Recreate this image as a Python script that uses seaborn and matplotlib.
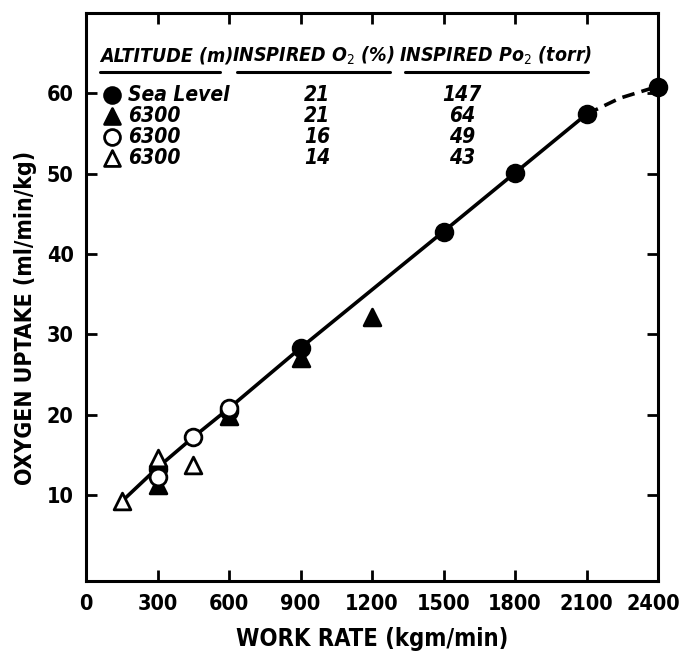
import pandas as pd
import matplotlib.pyplot as plt
import matplotlib.transforms as mtransforms
import seaborn as sns

# data
sea_x = [300, 600, 900, 1500, 1800, 2100, 2400]
sea_y = [13.3, 20.4, 28.3, 42.8, 50.1, 57.4, 60.8]
alt21_x = [300, 600, 900, 1200]
alt21_y = [11.3, 19.8, 27.0, 32.1]
alt16_x = [300, 450, 600]
alt16_y = [12.3, 17.2, 20.8]
alt14_x = [150, 300, 450]
alt14_y = [9.2, 14.6, 13.8]

fit_x = [150, 300, 450, 600, 900, 1500, 1800, 2100]
fit_y = [9.2, 13.4, 17.2, 20.8, 28.3, 42.8, 50.1, 57.4]
ext_x = [2100, 2240, 2370, 2400]
ext_y = [57.4, 59.4, 60.6, 60.8]

x_ticks = [0, 300, 600, 900, 1200, 1500, 1800, 2100, 2400]
y_ticks = [10, 20, 30, 40, 50, 60]

table_alt = ['Sea Level', '6300', '6300', '6300']
table_o2 = ['21', '21', '16', '14']
table_po2 = ['147', '64', '49', '43']

sns.set_style('ticks')
plt.rcParams['font.family'] = ['DejaVu Sans']
plt.rcParams['font.stretch'] = 'condensed'
plt.rcParams['text.color'] = 'black'
plt.rcParams['axes.labelcolor'] = 'black'
plt.rcParams['axes.edgecolor'] = 'black'
plt.rcParams['xtick.color'] = 'black'
plt.rcParams['ytick.color'] = 'black'

fig = plt.figure(figsize=(6.79, 6.59), dpi=100)
ax = fig.add_axes([86/679, 1 - 581/659, 572/679, 568/659])

# fitted line (solid) and extrapolation (dashed)
sns.lineplot(x=fit_x, y=fit_y, ax=ax, color='black', lw=2.6, zorder=2, sort=False)
sns.lineplot(x=ext_x, y=ext_y, ax=ax, color='black', lw=2.6, ls=(0, (3.5, 2)), zorder=2, sort=False)

ms = 145
groups = [
    (sea_x, sea_y, 'o', 'black'),
    (alt21_x, alt21_y, '^', 'black'),
    (alt16_x, alt16_y, 'o', 'white'),
    (alt14_x, alt14_y, '^', 'white'),
]
for i, (gx, gy, mk, fc) in enumerate(groups):
    sns.scatterplot(x=gx, y=gy, ax=ax, marker=mk, s=ms, color=fc,
                    edgecolor='black', linewidth=2, zorder=3 + i, clip_on=False)

ax.set_xlim(0, 2400)
ax.set_ylim(-0.7, 70)
ax.set_xticks(x_ticks)
ax.set_yticks(y_ticks)
ax.tick_params(direction='in', length=8, width=2, top=True, right=True,
               labelsize=15.5, pad=9)
for lbl in ax.get_xticklabels() + ax.get_yticklabels():
    lbl.set_fontweight('bold')
    lbl.set_fontstretch('condensed')
# nudge the last x label so it stays inside the figure
last = ax.get_xticklabels()[-1]
last.set_transform(last.get_transform() + mtransforms.ScaledTranslation(-5/100, 0, fig.dpi_scale_trans))
for sp in ax.spines.values():
    sp.set_linewidth(2.2)
    sp.set_color('black')
    sp.set_visible(True)

ax.set_xlabel('WORK RATE (kgm/min)', fontsize=17, fontweight='bold', labelpad=10)
ax.set_ylabel('OXYGEN UPTAKE (ml/min/kg)', fontsize=16.5, fontweight='bold')
ax.yaxis.set_label_coords(-0.086, 0.463)

# legend table drawn as text
def fx(px):
    return (px - 86) / 572

def fy(py):
    return (581 - py) / 568

hdr = dict(fontsize=14, fontweight='bold', style='italic', fontstretch='condensed',
           transform=ax.transAxes, va='center')
ax.text(fx(100), fy(56), 'ALTITUDE (m)', ha='left', **hdr)
ax.text(fx(313), fy(56), 'INSPIRED O$_2$ (%)', ha='center', **hdr)
ax.text(fx(496), fy(56), 'INSPIRED Po$_2$ (torr)', ha='center', **hdr)
for x0, x1 in [(100, 220), (237, 390), (405, 588)]:
    ax.plot([fx(x0), fx(x1)], [fy(72), fy(72)], color='black', lw=2.2, transform=ax.transAxes)

row_y = [95, 116, 137, 158]
row_mk = [('o', 'black'), ('^', 'black'), ('o', 'white'), ('^', 'white')]
cell = dict(fontsize=15, fontweight='bold', style='italic', fontstretch='condensed',
            transform=ax.transAxes, va='center')
for ry, (mk, fc), a, o, p in zip(row_y, row_mk, table_alt, table_o2, table_po2):
    ax.scatter([fx(112)], [fy(ry)], marker=mk, s=130, color=fc, edgecolor='black',
               linewidth=2, transform=ax.transAxes, zorder=5)
    ax.text(fx(128), fy(ry), a, ha='left', **cell)
    ax.text(fx(317), fy(ry), o, ha='center', **cell)
    ax.text(fx(462), fy(ry), p, ha='center', **cell)

fig.savefig('out.png', dpi=100)
